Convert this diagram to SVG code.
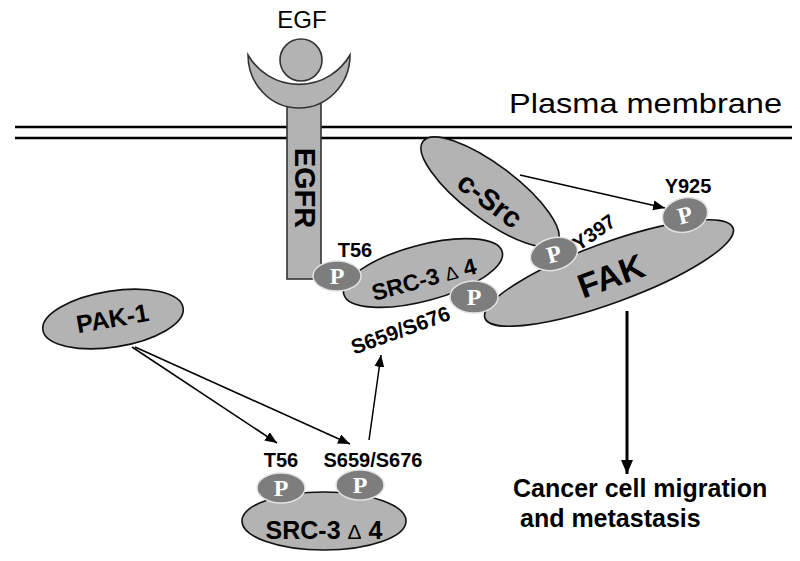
<svg xmlns="http://www.w3.org/2000/svg" width="800" height="561" viewBox="0 0 800 561">
<defs>
<style>
.mol{fill:#b3b3b3;stroke:#111;stroke-width:1.6}
.rec{fill:#b3b3b3;stroke:#333;stroke-width:1.6}
.pc{fill:#7d7d7d;stroke:#e2e2e2;stroke-width:1.5}
.pt{font-family:"Liberation Serif",serif;font-weight:bold;font-size:24px;fill:#fff;text-anchor:middle}
.b{font-family:"Liberation Sans",Arial,sans-serif;font-weight:bold;fill:#000;text-anchor:middle}
.bs{font-family:"Liberation Sans",Arial,sans-serif;font-weight:bold;fill:#000;font-size:25px}
.lab{font-size:20px}
.r{font-family:"Liberation Sans",Arial,sans-serif;fill:#000}
.ln{stroke:#000;stroke-width:1.5;fill:none}
.mem{stroke:#000;stroke-width:2.7}
</style>
<marker id="ah" viewBox="0 0 12 10" refX="12" refY="5" markerWidth="12" markerHeight="10" markerUnits="userSpaceOnUse" orient="auto"><path d="M0,0 L12,5 L0,10 Z" fill="#000"/></marker>
<marker id="ahb" viewBox="0 0 14 12" refX="14" refY="6" markerWidth="14" markerHeight="12" markerUnits="userSpaceOnUse" orient="auto"><path d="M0,0 L14,6 L0,12 Z" fill="#000"/></marker>
</defs>
<rect width="800" height="561" fill="#fff"/>

<g id="membrane">
<line class="mem" x1="15" y1="127" x2="792" y2="127"/>
<line class="mem" x1="15" y1="138" x2="792" y2="138"/>
<text class="r" x="509" y="113" font-size="28" textLength="273" lengthAdjust="spacingAndGlyphs">Plasma membrane</text>
</g>

<g id="egfr">
<rect class="rec" x="287" y="100" width="34" height="179"/>
<path class="rec" d="M248,55 A51,53 0 0 0 350,55 A59,59 0 0 1 248,55 Z"/>
<text class="b" x="295" y="188" font-size="29" transform="rotate(90 295 188)">EGFR</text>
</g>

<g id="egf">
<circle class="rec" cx="301" cy="60" r="21"/>
<text class="r" x="302" y="28" font-size="24" text-anchor="middle">EGF</text>
</g>

<g id="connectors">
<line class="ln" x1="520" y1="175" x2="665" y2="208" marker-end="url(#ah)"/>
<line class="ln" x1="132" y1="347" x2="277" y2="443" marker-end="url(#ah)"/>
<line class="ln" x1="135" y1="347" x2="350" y2="444" marker-end="url(#ah)"/>
<line class="ln" x1="369" y1="440" x2="381" y2="355" marker-end="url(#ah)"/>
<line x1="627" y1="311" x2="627" y2="474" stroke="#000" stroke-width="3" marker-end="url(#ahb)"/>
</g>

<g id="fak">
<ellipse class="mol" cx="609" cy="273" rx="132" ry="30" transform="rotate(-20 609 273)"/>
<text class="b" x="615" y="287" font-size="34" transform="rotate(-20 615 287)">FAK</text>
</g>

<g id="csrc">
<ellipse class="mol" cx="490" cy="192" rx="84" ry="27" transform="rotate(37 490 192)"/>
<text class="b" x="484" y="208" font-size="29" transform="rotate(37 484 208)">c-Src</text>
</g>

<g id="src3-top">
<ellipse class="mol" cx="423" cy="273" rx="82" ry="28" transform="rotate(-15 423 273)"/>
<text class="b" x="426" y="287" font-size="23" transform="rotate(-15 426 287)">SRC-3 <tspan font-weight="normal" font-size="19">Δ</tspan> 4</text>
</g>

<g id="p-t56-top">
<ellipse class="pc" cx="337" cy="276" rx="24" ry="15"/>
<text class="pt" x="337" y="284">P</text>
<text class="b lab" x="355" y="257">T56</text>
</g>

<g id="p-s659-top">
<ellipse class="pc" cx="474" cy="297" rx="24" ry="16"/>
<text class="pt" x="474" y="305">P</text>
<text class="b" x="403" y="337" font-size="21" transform="rotate(-20 403 337)">S659/S676</text>
</g>

<g id="p-y397">
<ellipse class="pc" cx="554" cy="254" rx="24" ry="16" transform="rotate(-15 554 254)"/>
<text class="pt" x="554" y="262" transform="rotate(-15 554 254)">P</text>
<text class="b lab" x="598" y="238" transform="rotate(-35 598 238)">Y397</text>
</g>

<g id="p-y925">
<ellipse class="pc" cx="685" cy="215" rx="23" ry="17" transform="rotate(-15 685 215)"/>
<text class="pt" x="685" y="223" transform="rotate(-15 685 215)">P</text>
<text class="b lab" x="688" y="193">Y925</text>
</g>

<g id="pak1">
<ellipse class="mol" cx="113" cy="319" rx="71" ry="28" transform="rotate(-9 113 319)"/>
<text class="b" x="114" y="327" font-size="25" transform="rotate(-10 114 327)">PAK-1</text>
</g>

<g id="src3-bottom">
<ellipse class="mol" cx="324" cy="521" rx="82" ry="29"/>
<text class="b" x="324" y="539" font-size="25">SRC-3 <tspan font-weight="normal" font-size="21">Δ</tspan> 4</text>
</g>

<g id="p-t56-bottom">
<ellipse class="pc" cx="281" cy="488" rx="24" ry="15"/>
<text class="pt" x="281" y="496">P</text>
<text class="b lab" x="281" y="467">T56</text>
</g>

<g id="p-s659-bottom">
<ellipse class="pc" cx="360" cy="485" rx="24" ry="15"/>
<text class="pt" x="360" y="493">P</text>
<text class="b lab" x="373" y="467">S659/S676</text>
</g>

<g id="outcome">
<text class="bs" x="513" y="497">Cancer cell migration</text>
<text class="bs" x="520" y="527">and metastasis</text>
</g>
</svg>
